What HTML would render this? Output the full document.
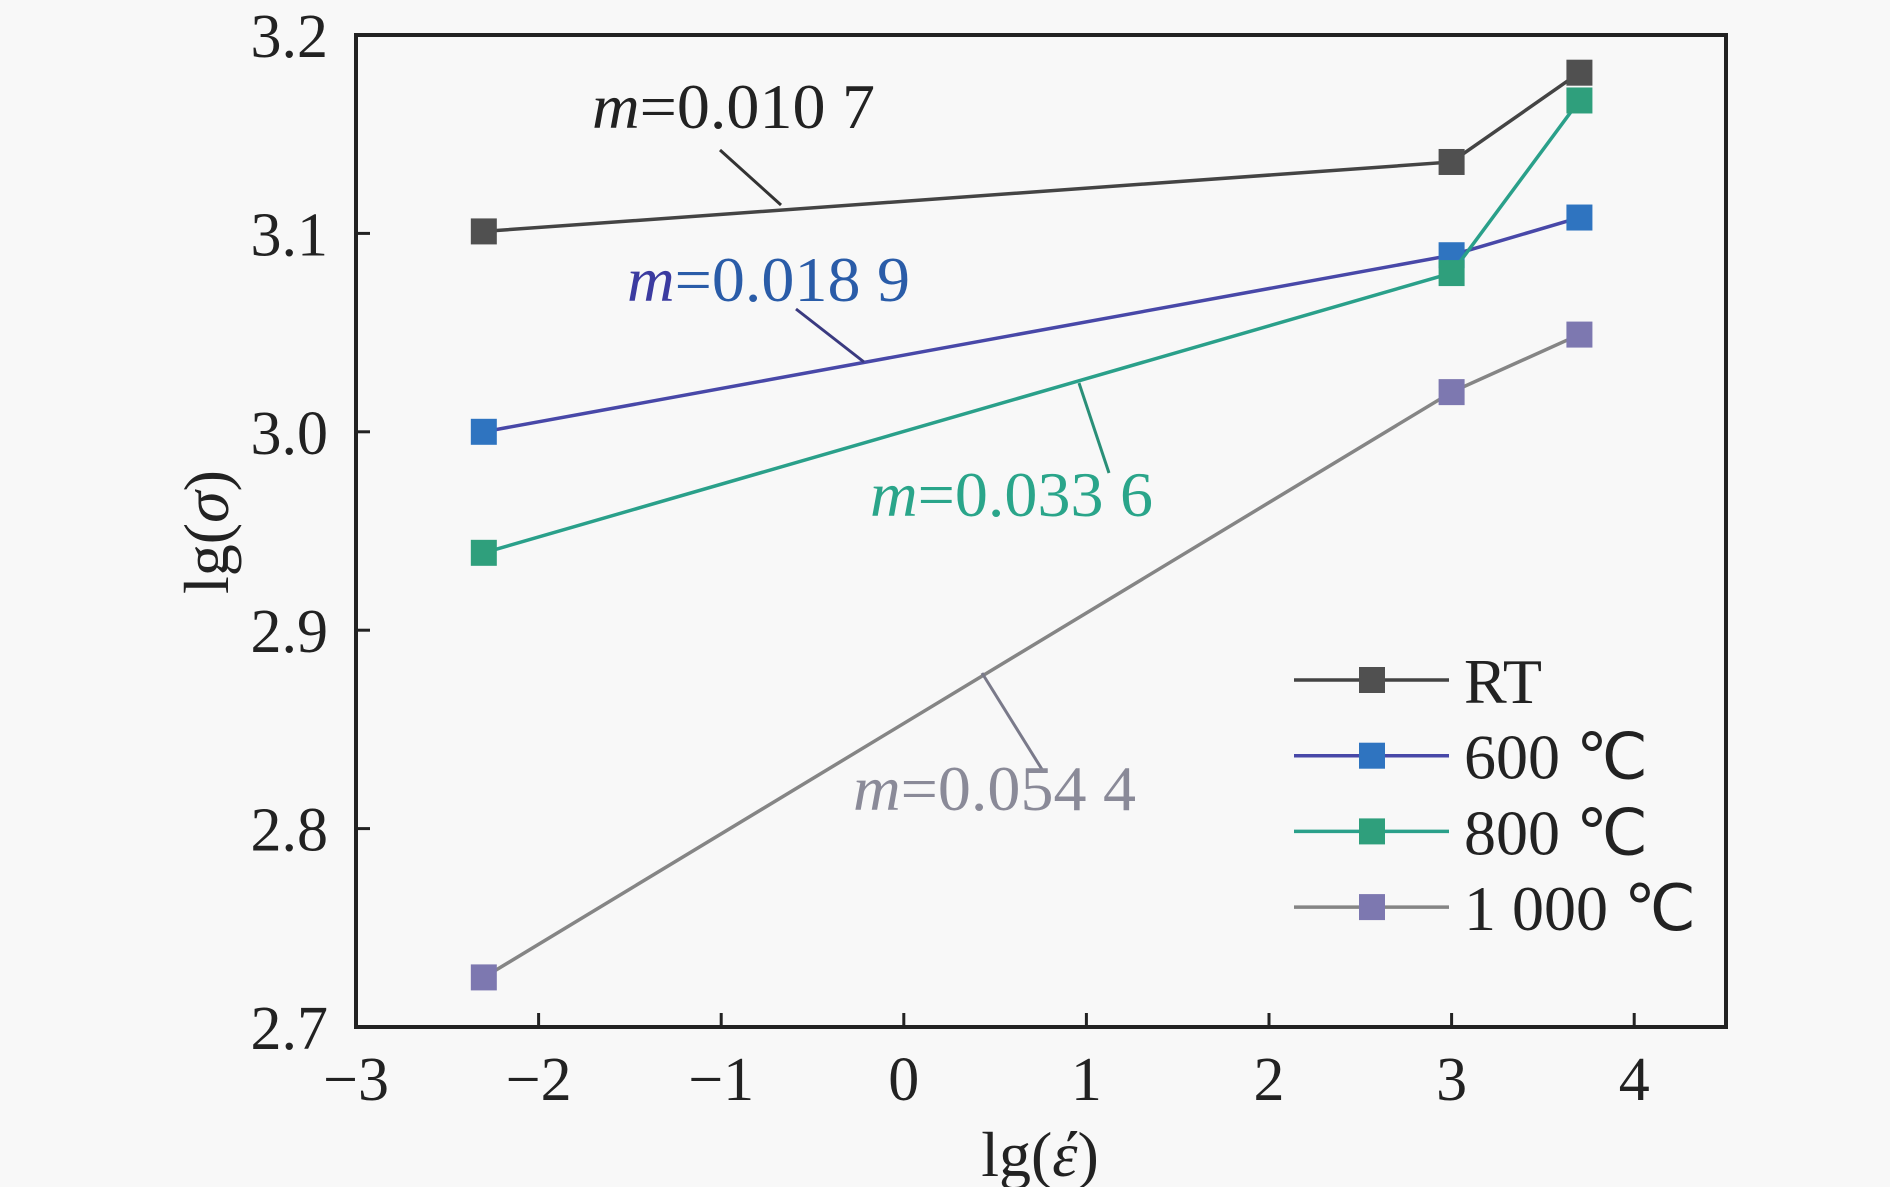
<!DOCTYPE html>
<html><head><meta charset="utf-8"><style>
html,body{margin:0;padding:0;background:#f8f8f8;}
svg{display:block;font-family:"Liberation Serif","Times New Roman",serif;}
</style></head><body>
<svg id="chart" width="1890" height="1187" viewBox="0 0 1890 1187" xmlns="http://www.w3.org/2000/svg">
<rect x="0" y="0" width="1890" height="1187" fill="#f8f8f8"/>
<g id="plot"></g>
<g id="axes"></g>
<text x="1040" y="1176" font-size="64" text-anchor="middle" fill="#222">lg(<tspan font-style="italic">έ</tspan>)</text>
<text transform="translate(228,532) rotate(-90)" font-size="64" text-anchor="middle" fill="#222">lg(<tspan font-style="italic">σ</tspan>)</text>
<g>
<line x1="720" y1="150" x2="781" y2="205" stroke="#333" stroke-width="3"/>
<text x="592" y="128" font-size="64" fill="#222" textLength="283" lengthAdjust="spacingAndGlyphs"><tspan font-style="italic">m</tspan>=0.010 7</text>
</g>
<g>
<line x1="796" y1="309" x2="864" y2="362" stroke="#3a3a80" stroke-width="3"/>
<text x="627" y="301" font-size="64" fill="#2a5ca8" textLength="283" lengthAdjust="spacingAndGlyphs"><tspan font-style="italic" fill="#3b3ba0">m</tspan>=0.018 9</text>
</g>
<g>
<line x1="1079" y1="383" x2="1109" y2="473" stroke="#2a8f78" stroke-width="3"/>
<text x="870" y="516" font-size="64" fill="#2aa58a" textLength="283" lengthAdjust="spacingAndGlyphs"><tspan font-style="italic">m</tspan>=0.033 6</text>
</g>
<g>
<line x1="982" y1="673" x2="1043" y2="771" stroke="#7a7a8a" stroke-width="3"/>
<text x="853" y="810" font-size="64" fill="#8a8a98" textLength="283" lengthAdjust="spacingAndGlyphs"><tspan font-style="italic">m</tspan>=0.054 4</text>
</g>
<g id="legend"></g>
</svg>
<script>
const xValues = [-2.3, 3, 3.7];
const seriesNames = ["RT", "600 ℃", "800 ℃", "1 000 ℃"];
const rtValues = [3.101, 3.136, 3.181];
const t600Values = [3.000, 3.089, 3.108];
const t800Values = [2.939, 3.080, 3.167];
const t1000Values = [2.725, 3.020, 3.049];
const xTicks = [-3, -2, -1, 0, 1, 2, 3, 4];
const yTicks = [2.7, 2.8, 2.9, 3.0, 3.1, 3.2];
const xTickLabels = ["−3", "−2", "−1", "0", "1", "2", "3", "4"];
const yTickLabels = ["2.7", "2.8", "2.9", "3.0", "3.1", "3.2"];

const NS = "http://www.w3.org/2000/svg";
const X0 = 356, XU = 182.6, YB = 1027, YT = 35;
function sx(v){ return X0 + (v + 3) * XU; }
function sy(v){ return YB - (v - 2.7) / 0.5 * (YB - YT); }
function mk(tag, attrs, parent){ const e = document.createElementNS(NS, tag); for (const k in attrs) e.setAttribute(k, attrs[k]); parent.appendChild(e); return e; }

const styles = [
  {line:"#444", marker:"#505050", key:"rt"},
  {line:"#4848a8", marker:"#2f74c0", key:"600"},
  {line:"#2aa08a", marker:"#2f9f7c", key:"800"},
  {line:"#858585", marker:"#7d78b0", key:"1000"}
];
const allSeries = [rtValues, t600Values, t800Values, t1000Values];
const plot = document.getElementById("plot");
allSeries.forEach((vals, i) => {
  const g = mk("g", {}, plot);
  
  
  const pts = vals.map((v, j) => sx(xValues[j]) + "," + sy(v)).join(" ");
  const pl = mk("polyline", {points: pts, fill: "none", stroke: styles[i].line, "stroke-width": 3.5}, g);
  
  
  vals.forEach((v, j) => {
    const r = mk("rect", {x: sx(xValues[j]) - 13, y: sy(v) - 13, width: 26, height: 26, fill: styles[i].marker}, g);
    
    
  });
});

const axes = document.getElementById("axes");
const frame = mk("rect", {x: X0, y: YT, width: 1726 - X0, height: YB - YT, fill: "none", stroke: "#222", "stroke-width": 4}, axes);


xTicks.forEach((t, i) => {
  const x = sx(t);
  if (i > 0) {
    const tk = mk("line", {x1: x, y1: YB, x2: x, y2: YB - 14, stroke: "#222", "stroke-width": 3}, axes);
    
    
  }
  const lb = mk("text", {x: x, y: 1100, "font-size": 62, "text-anchor": "middle", fill: "#222"}, axes);
  lb.textContent = xTickLabels[i];
  
  
});
yTicks.forEach((t, i) => {
  const y = sy(t);
  if (i > 0 && i < yTicks.length - 1) {
    const tk = mk("line", {x1: X0, y1: y, x2: X0 + 14, y2: y, stroke: "#222", "stroke-width": 3}, axes);
    
    
  }
  const lb = mk("text", {x: 328, y: y + 22, "font-size": 62, "text-anchor": "end", fill: "#222"}, axes);
  lb.textContent = yTickLabels[i];
  
  
});

const legend = document.getElementById("legend");
seriesNames.forEach((name, i) => {
  const y = 680 + i * 75.7;
  const g = mk("g", {}, legend);
  
  
  const ln = mk("line", {x1: 1294, y1: y, x2: 1449, y2: y, stroke: styles[i].line, "stroke-width": 3.5}, g);
  
  
  const r = mk("rect", {x: 1359, y: y - 13, width: 26, height: 26, fill: styles[i].marker}, g);
  
  
  const t = mk("text", {x: 1464, y: y + 23, "font-size": 64, fill: "#222"}, g);
  t.textContent = name;
  
  
});
</script>
</body></html>
